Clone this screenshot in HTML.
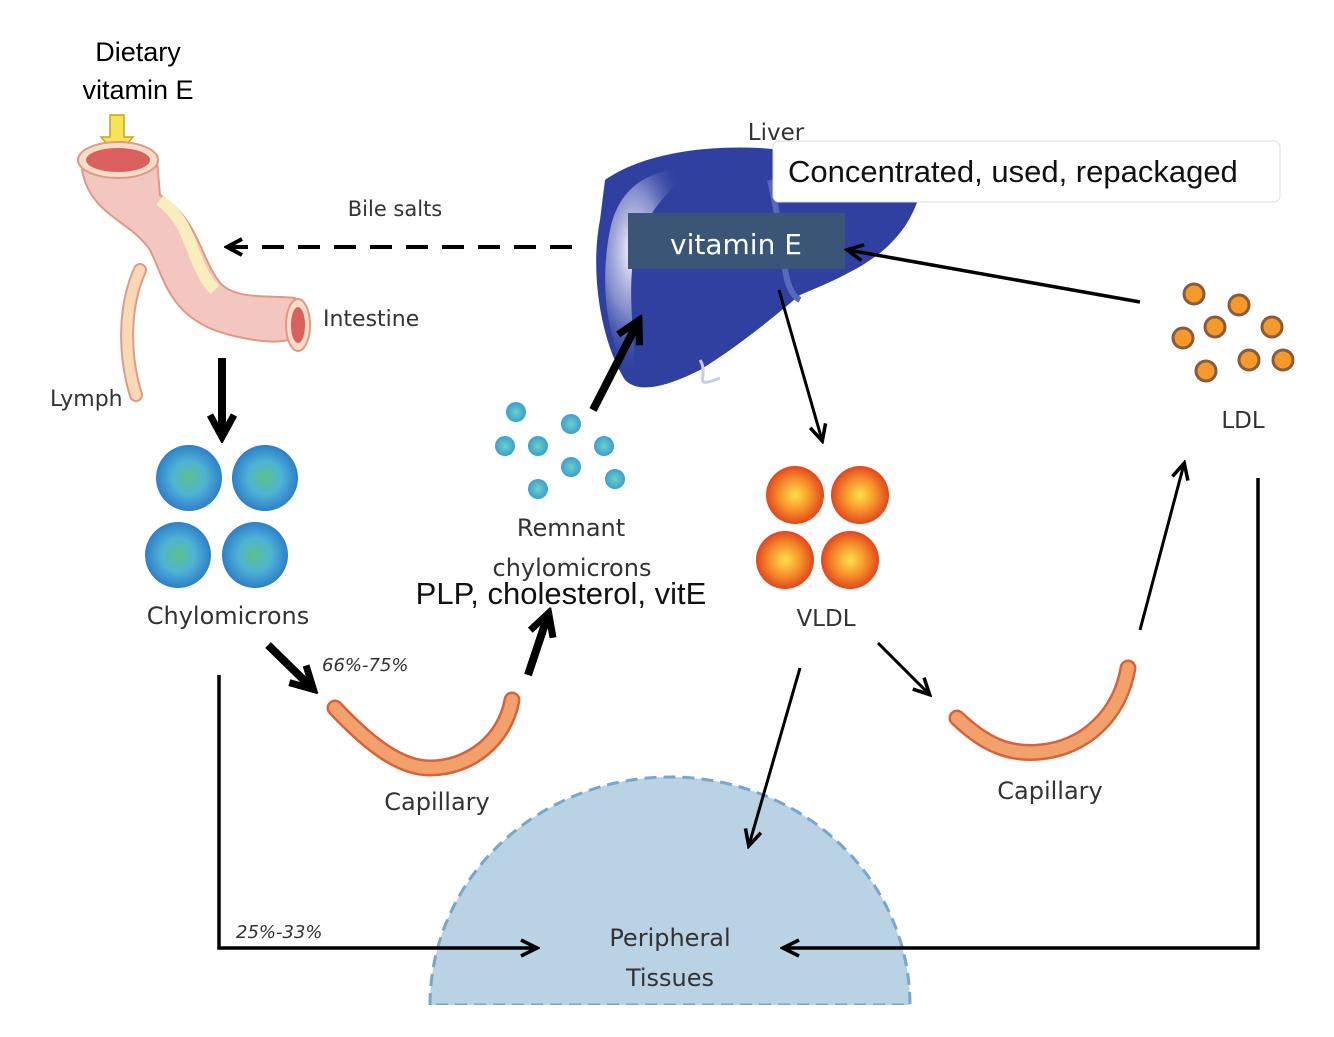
<!DOCTYPE html>
<html><head><meta charset="utf-8"><style>
html,body{margin:0;padding:0;background:#fff;width:1334px;height:1037px;overflow:hidden}
svg{display:block}
text{font-family:"DejaVu Sans","Liberation Sans",sans-serif;fill:#333}
</style></head><body>
<svg width="1334" height="1037" viewBox="0 0 1334 1037">
<defs>
<radialGradient id="chy" cx="50%" cy="50%" r="50%"><stop offset="0" stop-color="#5cc08a"/><stop offset="0.5" stop-color="#4fb3d6"/><stop offset="1" stop-color="#2e7fc9"/></radialGradient>
<radialGradient id="vl" cx="50%" cy="50%" r="50%"><stop offset="0" stop-color="#ffe14a"/><stop offset="0.55" stop-color="#f7902a"/><stop offset="1" stop-color="#e2461e"/></radialGradient>
<radialGradient id="rem" cx="50%" cy="50%" r="50%"><stop offset="0" stop-color="#6fd0c0"/><stop offset="1" stop-color="#3a9fd6"/></radialGradient>
<radialGradient id="hl" cx="30%" cy="40%" r="60%"><stop offset="0" stop-color="#ffffff"/><stop offset="0.5" stop-color="#a9b0e0" stop-opacity="0.7"/><stop offset="1" stop-color="#3346a0" stop-opacity="0"/></radialGradient>
<marker id="ah" markerWidth="22" markerHeight="22" refX="18" refY="11" orient="auto" markerUnits="userSpaceOnUse" viewBox="0 0 22 22"><path d="M3,3 L19,11 L3,19" fill="none" stroke="#000" stroke-width="3.5"/></marker>
<marker id="ahb" markerWidth="30" markerHeight="30" refX="22" refY="15" orient="auto" markerUnits="userSpaceOnUse" viewBox="0 0 30 30"><path d="M2,3 L24,15 L2,27" fill="none" stroke="#000" stroke-width="7"/></marker>
<marker id="ahm" markerWidth="20" markerHeight="20" refX="16" refY="10" orient="auto" markerUnits="userSpaceOnUse" viewBox="0 0 20 20"><path d="M2,2 L17,10 L2,18" fill="none" stroke="#000" stroke-width="4"/></marker>
</defs>

<!-- Peripheral tissues -->
<path d="M430,1005 A240,228 0 0 1 910,1005 Z" fill="#b9d2e4" stroke="#79a6cc" stroke-width="3" stroke-dasharray="12,7"/>
<rect x="420" y="1005" width="500" height="32" fill="#fff"/>
<text x="670" y="946" font-size="24" text-anchor="middle">Peripheral</text>
<text x="670" y="986" font-size="24" text-anchor="middle">Tissues</text>

<!-- Dietary -->
<text x="138" y="61" font-size="27" text-anchor="middle" style="font-family:'Liberation Sans',sans-serif;fill:#000">Dietary</text>
<text x="138" y="99" font-size="27" text-anchor="middle" style="font-family:'Liberation Sans',sans-serif;fill:#000">vitamin E</text>
<path d="M110,115 h14 v22 h9 l-16,18 l-16,-18 h9 z" fill="#f6e35a" stroke="#c9a810" stroke-width="1.5"/>

<!-- Intestine -->
<path d="M136,395 C125,360 122,310 140,270" fill="none" stroke="#e19a8a" stroke-width="14" stroke-linecap="round"/>
<path d="M136,395 C125,360 122,310 140,270" fill="none" stroke="#f8d9b6" stroke-width="10" stroke-linecap="round"/>
<path d="M82,170 C90,215 130,220 150,250 C165,280 170,320 230,335 C270,345 300,345 305,325 L295,298 C270,295 240,300 222,285 C200,260 200,220 160,195 L157,160 Z" fill="#f4c6c0" stroke="#df9a84" stroke-width="2"/>
<path d="M160,200 C195,225 190,265 215,290" fill="none" stroke="#fbeebe" stroke-width="12"/>
<ellipse cx="118" cy="160" rx="40" ry="18" fill="#f8dcc8" stroke="#df9a84" stroke-width="2"/>
<ellipse cx="118" cy="160" rx="32" ry="12" fill="#d9605c"/>
<ellipse cx="298" cy="325" rx="12" ry="26" fill="#f8dcc8" stroke="#df9a84" stroke-width="2"/>
<ellipse cx="298" cy="325" rx="7" ry="18" fill="#d9605c"/>
<text x="323" y="326" font-size="22">Intestine</text>
<text x="50" y="406" font-size="22">Lymph</text>
<text x="395" y="216" font-size="21" text-anchor="middle">Bile salts</text>
<line x1="572" y1="247" x2="228" y2="247" stroke="#000" stroke-width="4" stroke-dasharray="22,14" marker-end="url(#ahm)"/>

<!-- Liver -->
<path d="M605,180 C640,155 700,145 760,148 C820,152 880,170 918,200 C900,250 860,270 800,295 C770,320 740,345 700,370 C670,385 640,395 625,380 C600,340 590,270 600,220 Z" fill="#2f40a0"/>
<path d="M610,230 C620,180 660,165 700,170 C670,185 640,215 632,270 C628,320 640,360 630,375 C605,340 600,280 610,230 Z" fill="url(#hl)"/>
<path d="M770,180 C785,240 780,290 800,300" fill="none" stroke="#5869b8" stroke-width="6"/>
<path d="M700,360 C710,375 690,390 720,378" fill="none" stroke="#c9cce6" stroke-width="3"/>
<text x="776" y="140" font-size="23" text-anchor="middle">Liver</text>
<rect x="773" y="141" width="507" height="61" rx="6" fill="#fff" stroke="#ddd" stroke-width="1"/>
<text x="788" y="182" font-size="31" style="font-family:'Liberation Sans',sans-serif;fill:#111">Concentrated, used, repackaged</text>
<rect x="628" y="213" width="217" height="56" fill="#3a5576"/>
<text x="736" y="254" font-size="28" text-anchor="middle" style="fill:#fff">vitamin E</text>

<!-- Chylomicrons -->
<circle cx="189" cy="478" r="33" fill="url(#chy)"/>
<circle cx="265" cy="478" r="33" fill="url(#chy)"/>
<circle cx="178" cy="555" r="33" fill="url(#chy)"/>
<circle cx="255" cy="555" r="33" fill="url(#chy)"/>
<text x="228" y="624" font-size="24" text-anchor="middle">Chylomicrons</text>
<line x1="222" y1="358" x2="222" y2="435" stroke="#000" stroke-width="8" marker-end="url(#ahb)"/>

<!-- Remnant -->
<g fill="url(#rem)">
<circle cx="516" cy="412" r="10"/><circle cx="571" cy="424" r="10"/><circle cx="505" cy="446" r="10"/><circle cx="538" cy="446" r="10"/><circle cx="604" cy="446" r="10"/><circle cx="571" cy="467" r="10"/><circle cx="615" cy="479" r="10"/><circle cx="538" cy="489" r="10"/>
</g>
<text x="571" y="536" font-size="24" text-anchor="middle">Remnant</text>
<text x="572" y="576" font-size="24" text-anchor="middle">chylomicrons</text>
<text x="561" y="604" font-size="31" text-anchor="middle" style="font-family:'Liberation Sans',sans-serif;fill:#111">PLP, cholesterol, vitE</text>
<line x1="593" y1="410" x2="638" y2="322" stroke="#000" stroke-width="8" marker-end="url(#ahb)"/>

<!-- Left capillary -->
<path d="M335,708 C370,745 400,768 430,768 C470,768 505,740 512,700" fill="none" stroke="#d9623a" stroke-width="17" stroke-linecap="round"/>
<path d="M335,708 C370,745 400,768 430,768 C470,768 505,740 512,700" fill="none" stroke="#f2a06c" stroke-width="12" stroke-linecap="round"/>
<text x="437" y="810" font-size="24" text-anchor="middle">Capillary</text>
<text x="322" y="671" font-size="18" font-style="italic">66%-75%</text>
<line x1="268" y1="645" x2="312" y2="688" stroke="#000" stroke-width="8" marker-end="url(#ahb)"/>
<line x1="528" y1="675" x2="548" y2="615" stroke="#000" stroke-width="8" marker-end="url(#ahb)"/>

<!-- VLDL -->
<circle cx="795" cy="495" r="29" fill="url(#vl)"/>
<circle cx="860" cy="495" r="29" fill="url(#vl)"/>
<circle cx="785" cy="560" r="29" fill="url(#vl)"/>
<circle cx="850" cy="560" r="29" fill="url(#vl)"/>
<text x="826" y="626" font-size="23" text-anchor="middle">VLDL</text>
<line x1="779" y1="290" x2="822" y2="440" stroke="#000" stroke-width="3" marker-end="url(#ah)"/>
<line x1="800" y1="668" x2="749" y2="845" stroke="#000" stroke-width="3" marker-end="url(#ah)"/>
<line x1="878" y1="643" x2="929" y2="694" stroke="#000" stroke-width="3" marker-end="url(#ah)"/>

<!-- Right capillary -->
<path d="M957,718 C985,745 1010,755 1040,752 C1085,748 1120,715 1128,668" fill="none" stroke="#d9623a" stroke-width="17" stroke-linecap="round"/>
<path d="M957,718 C985,745 1010,755 1040,752 C1085,748 1120,715 1128,668" fill="none" stroke="#f2a06c" stroke-width="12" stroke-linecap="round"/>
<text x="1050" y="799" font-size="24" text-anchor="middle">Capillary</text>
<line x1="1140" y1="630" x2="1184" y2="464" stroke="#000" stroke-width="3" marker-end="url(#ah)"/>

<!-- LDL -->
<g fill="#f59a2a" stroke="#8a5a3a" stroke-width="3">
<circle cx="1194" cy="294" r="10"/><circle cx="1239" cy="305" r="10"/><circle cx="1215" cy="327" r="10"/><circle cx="1272" cy="327" r="10"/><circle cx="1183" cy="338" r="10"/><circle cx="1249" cy="360" r="10"/><circle cx="1283" cy="360" r="10"/><circle cx="1206" cy="371" r="10"/>
</g>
<text x="1243" y="428" font-size="23" text-anchor="middle">LDL</text>
<line x1="1140" y1="302" x2="848" y2="250" stroke="#000" stroke-width="3.5" marker-end="url(#ah)"/>

<!-- bottom lines -->
<polyline points="219,675 219,948 536,948" fill="none" stroke="#000" stroke-width="3.5" marker-end="url(#ah)"/>
<text x="236" y="938" font-size="18" font-style="italic">25%-33%</text>
<polyline points="1258,478 1258,948 784,948" fill="none" stroke="#000" stroke-width="3.5" marker-end="url(#ah)"/>
</svg>
</body></html>
